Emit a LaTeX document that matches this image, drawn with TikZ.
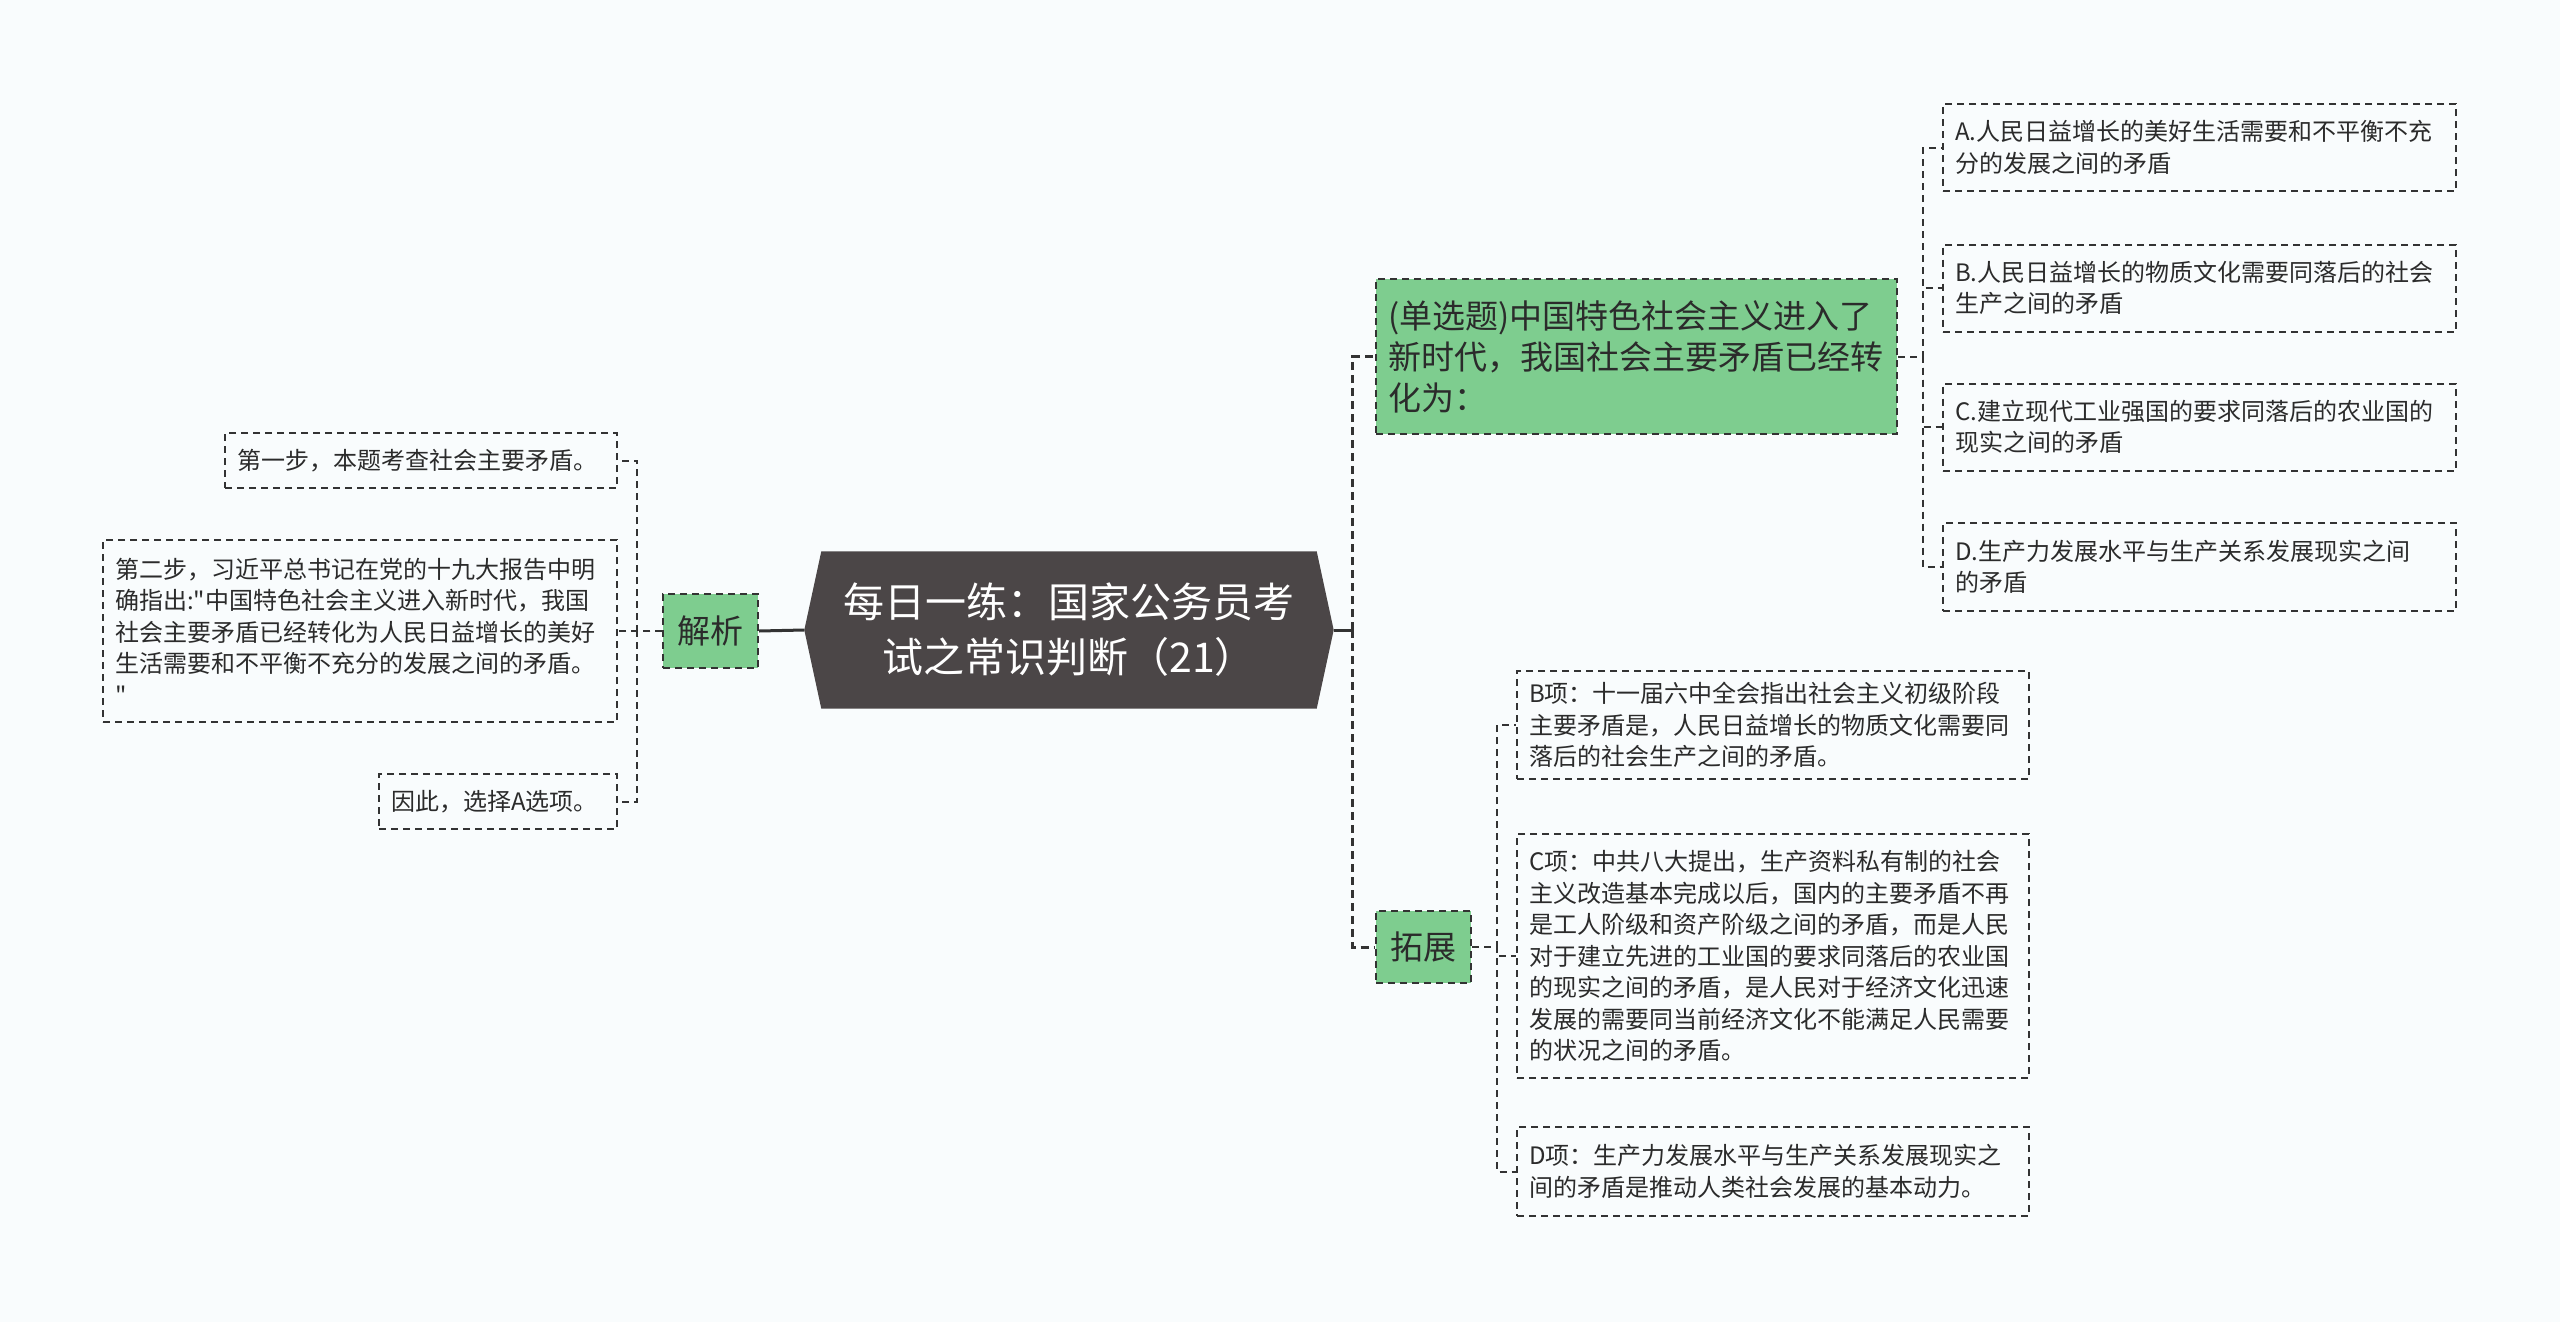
\documentclass[tikz,border=0pt]{standalone}
\usepackage{fontspec}
\setmainfont{Noto Sans CJK SC}[Ligatures=TeXOff]
\usetikzlibrary{backgrounds,calc}
\definecolor{bgc}{HTML}{F9FCFD}
\definecolor{rootc}{HTML}{4B4647}
\definecolor{greenc}{HTML}{7ECD8F}
\definecolor{linec}{HTML}{333333}
\definecolor{textc}{HTML}{2B2B2B}
\tikzset{
  boxbase/.style={draw=linec, line width=2pt, dash pattern=on 7pt off 5pt, text=textc, inner xsep=12pt, inner ysep=0pt},
  leaf/.style={boxbase, fill=bgc, align=left, font=\fontsize{24}{31.5}\selectfont},
  greenbox/.style={boxbase, fill=greenc, font=\fontsize{33}{41}\selectfont},
  conn/.style={draw=linec, line width=2pt, dash pattern=on 7pt off 5pt},
  mainconn/.style={draw=linec, line width=3pt, dash pattern=on 8pt off 5pt},
  mainsolid/.style={draw=linec, line width=3pt}
}
\begin{document}
\begin{tikzpicture}[x=1pt,y=-1pt]
\useasboundingbox (0,0) rectangle (2560,1322);
\begin{scope}[on background layer]
\fill[bgc] (0,0) rectangle (2560,1322);
\end{scope}

% root
\node[minimum width=529pt, minimum height=157pt, inner sep=0pt, text=white, align=center,
      font=\fontsize{41}{55}\selectfont] (root) at (1069,630)
      {每日一练：国家公务员考\\试之常识判断（21）};
\begin{scope}[on background layer]
\fill[rootc] (root.west) -- ($(root.north west)+(17,0)$) -- ($(root.north east)+(-17,0)$)
  -- (root.east) -- ($(root.south east)+(-17,0)$) -- ($(root.south west)+(17,0)$) -- cycle;
\end{scope}

% left branch
\node[greenbox, minimum width=95pt, minimum height=74pt] (jx) at (710.5,631) {解析};
\node[leaf, text width=368pt, minimum height=55pt] (s1) at (421,460.5) {第一步，本题考查社会主要矛盾。};
\node[leaf, text width=490pt, minimum height=182pt] (s2) at (360,631)
  {第二步，习近平总书记在党的十九大报告中明\\确指出:"中国特色社会主义进入新时代，我国\\社会主要矛盾已经转化为人民日益增长的美好\\生活需要和不平衡不充分的发展之间的矛盾。\\"};
\node[leaf, text width=214pt, minimum height=55pt] (s3) at (498,801.5) {因此，选择A选项。};

% right branch
\node[greenbox, text width=497pt, align=left, minimum height=155pt] (q) at (1636.5,356.5)
  {(单选题)中国特色社会主义进入了\\新时代，我国社会主要矛盾已经转\\化为：};
\node[greenbox, minimum width=95pt, minimum height=72pt] (tz) at (1423.5,947) {拓展};

\node[leaf, text width=489pt, minimum height=87pt] (oa) at (2199.5,147.5)
  {A.人民日益增长的美好生活需要和不平衡不充\\分的发展之间的矛盾};
\node[leaf, text width=489pt, minimum height=87pt] (ob) at (2199.5,288)
  {B.人民日益增长的物质文化需要同落后的社会\\生产之间的矛盾};
\node[leaf, text width=489pt, minimum height=87pt] (oc) at (2199.5,427)
  {C.建立现代工业强国的要求同落后的农业国的\\现实之间的矛盾};
\node[leaf, text width=489pt, minimum height=88pt] (od) at (2199.5,567)
  {D.生产力发展水平与生产关系发展现实之间\\的矛盾};

\node[leaf, text width=488pt, minimum height=108pt] (eb) at (1773,725)
  {B项：十一届六中全会指出社会主义初级阶段\\主要矛盾是，人民日益增长的物质文化需要同\\落后的社会生产之间的矛盾。};
\node[leaf, text width=488pt, minimum height=244pt] (ec) at (1773,956)
  {C项：中共八大提出，生产资料私有制的社会\\主义改造基本完成以后，国内的主要矛盾不再\\是工人阶级和资产阶级之间的矛盾，而是人民\\对于建立先进的工业国的要求同落后的农业国\\的现实之间的矛盾，是人民对于经济文化迅速\\发展的需要同当前经济文化不能满足人民需要\\的状况之间的矛盾。};
\node[leaf, text width=488pt, minimum height=89pt] (ed) at (1773,1171.5)
  {D项：生产力发展水平与生产关系发展现实之\\间的矛盾是推动人类社会发展的基本动力。};

% connectors
\draw[mainsolid] (root.west) -- (jx.east);
\draw[conn] (jx.west) -- ++(-25,0) |- (s1.east);
\draw[conn] (jx.west) -- (s2.east);
\draw[conn] (jx.west) -- ++(-25,0) |- (s3.east);

\draw[mainsolid] (root.east) -- ++(19,0) coordinate (rj);
\draw[mainconn] (rj) |- (q.west);
\draw[mainconn] (rj) |- (tz.west);

\draw[conn] (q.east) -- ++(25,0) |- (oa.west);
\draw[conn] (q.east) -- ++(25,0) |- (ob.west);
\draw[conn] (q.east) -- ++(25,0) |- (oc.west);
\draw[conn] (q.east) -- ++(25,0) |- (od.west);

\draw[conn] (tz.east) -- ++(25,0) |- (eb.west);
\draw[conn] (tz.east) -- ++(25,0) |- (ec.west);
\draw[conn] (tz.east) -- ++(25,0) |- (ed.west);
\end{tikzpicture}
\end{document}
